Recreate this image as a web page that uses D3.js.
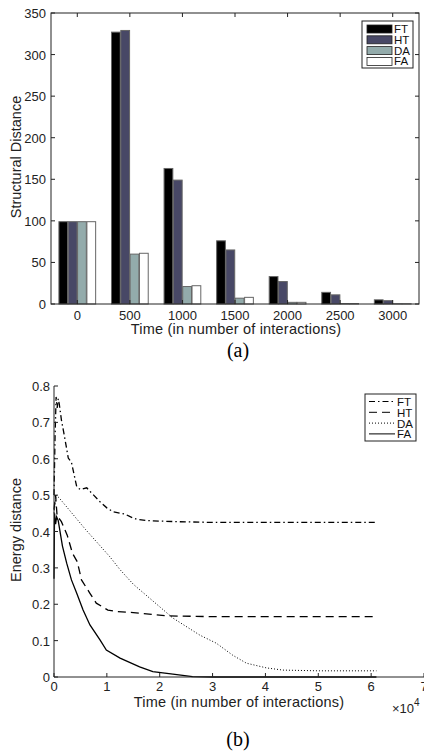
<!DOCTYPE html>
<html>
<head>
<meta charset="utf-8">
<script src="https://cdn.jsdelivr.net/npm/d3@7.9.0/dist/d3.min.js"></script>
<style>
  body { margin: 0; background: #fff; }
  svg { display: block; font-family: "Liberation Sans", Arial, sans-serif; }
</style>
</head>
<body>
<svg id="chart" width="424" height="754"></svg>
<script>
// ---- data: (a) structural distance bars ----
const times = ['0', '500', '1000', '1500', '2000', '2500', '3000'];
const methods = ['FT', 'HT', 'DA', 'FA'];
const ftBars = [99, 327, 163, 76, 33, 14, 5];
const htBars = [99, 329, 149, 65, 27, 11, 4];
const daBars = [99, 60, 21, 7, 2, 0.5, 0.3];
const faBars = [99, 61, 22, 8, 2, 0.5, 0.3];
const barTicks = [0, 50, 100, 150, 200, 250, 300, 350];

// ---- data: (b) energy distance curves (x in 10^4 interactions) ----
const ftLine = [[0, 0.5], [0.02, 0.66], [0.04, 0.77], [0.06, 0.74], [0.08, 0.765], [0.1, 0.75], [0.14, 0.707], [0.2, 0.66],
  [0.27, 0.602], [0.33, 0.59], [0.43, 0.523], [0.5, 0.515], [0.62, 0.52], [0.71, 0.506], [0.87, 0.482],
  [1.0, 0.465], [1.12, 0.454], [1.34, 0.448], [1.45, 0.44], [1.56, 0.434], [1.75, 0.43], [2.32, 0.427], [3.0, 0.425], [6.1, 0.425]];
const htLine = [[0, 0.46], [0.03, 0.5], [0.06, 0.44], [0.1, 0.435], [0.14, 0.427], [0.25, 0.39], [0.35, 0.34], [0.44, 0.317],
  [0.52, 0.267], [0.68, 0.23], [0.8, 0.203], [1.02, 0.184], [1.18, 0.18], [1.5, 0.177], [2.13, 0.168], [3.0, 0.166], [6.1, 0.166]];
const daLine = [[0, 0.45], [0.04, 0.5], [0.1, 0.492], [0.6, 0.405], [1.06, 0.33], [1.25, 0.295], [1.5, 0.255], [2.0, 0.193],
  [2.25, 0.162], [2.76, 0.115], [3.07, 0.093], [3.38, 0.06], [3.64, 0.038], [4.02, 0.025], [4.33, 0.019], [5.0, 0.017], [6.1, 0.017]];
const faLine = [[0, 0.27], [0.01, 0.45], [0.03, 0.42], [0.05, 0.44], [0.08, 0.43], [0.16, 0.36], [0.24, 0.313], [0.33, 0.267],
  [0.43, 0.23], [0.55, 0.184], [0.68, 0.143], [0.87, 0.102], [0.99, 0.074], [1.25, 0.052], [1.62, 0.028], [1.87, 0.015],
  [2.25, 0.008], [2.62, 0.001], [3.0, 0], [6.1, 0]];
const lineYTicks = [0, 0.1, 0.2, 0.3, 0.4, 0.5, 0.6, 0.7, 0.8];
const lineXTicks = [0, 1, 2, 3, 4, 5, 6, 7];

const svg = d3.select('#chart');
const fillColors = ['#000000', '#484866', '#93abab', '#ffffff'];
const tickSize = 4;
const tickFont = 13;
const labelFont = 14.5;

// ================= (a) =================
const a = { left: 51, right: 419, top: 13, bottom: 304 };
const xBand = d3.scaleBand().domain(times).range([a.left, a.right]).paddingInner(0.28).paddingOuter(0.14);
const xInner = d3.scaleBand().domain(methods).range([0, xBand.bandwidth()]).padding(0.06);
const yBar = d3.scaleLinear().domain([0, 350]).range([a.bottom, a.top]);
const barSeries = [ftBars, htBars, daBars, faBars];

const gA = svg.append('g');
barSeries.forEach((vals, s) => {
  gA.selectAll(null)
    .data(vals)
    .join('rect')
    .attr('x', (d, i) => xBand(times[i]) + xInner(methods[s]))
    .attr('y', (d) => yBar(d))
    .attr('width', xInner.bandwidth())
    .attr('height', (d) => a.bottom - yBar(d))
    .attr('fill', fillColors[s])
    .attr('stroke', '#666')
    .attr('stroke-width', 1);
});

const xCenter = (t) => xBand(t) + xBand.bandwidth() / 2;
const axA = gA.append('g').attr('fill', 'none').attr('stroke', '#222').attr('stroke-width', 1);
axA.append('rect').attr('x', a.left).attr('y', a.top).attr('width', a.right - a.left).attr('height', a.bottom - a.top);
barTicks.forEach((t) => {
  axA.append('line').attr('x1', a.left).attr('x2', a.left + tickSize).attr('y1', yBar(t)).attr('y2', yBar(t));
  axA.append('line').attr('x1', a.right).attr('x2', a.right - tickSize).attr('y1', yBar(t)).attr('y2', yBar(t));
});
times.forEach((t) => {
  axA.append('line').attr('x1', xCenter(t)).attr('x2', xCenter(t)).attr('y1', a.bottom).attr('y2', a.bottom - tickSize);
  axA.append('line').attr('x1', xCenter(t)).attr('x2', xCenter(t)).attr('y1', a.top).attr('y2', a.top + tickSize);
});

gA.selectAll('.ytl').data(barTicks).join('text')
  .attr('x', a.left - 5).attr('y', (d) => yBar(d) + 5)
  .attr('text-anchor', 'end').attr('font-size', tickFont).attr('fill', '#222')
  .text((d) => d);
gA.selectAll('.xtl').data(times).join('text')
  .attr('x', (d) => xCenter(d)).attr('y', 319.5)
  .attr('text-anchor', 'middle').attr('font-size', tickFont).attr('fill', '#222')
  .text((d) => d);
gA.append('text').attr('x', 236).attr('y', 334).attr('text-anchor', 'middle')
  .attr('font-size', labelFont).attr('letter-spacing', 0.2).attr('fill', '#222').text('Time (in number of interactions)');
gA.append('text').attr('transform', 'translate(21,157) rotate(-90)').attr('text-anchor', 'middle')
  .attr('font-size', labelFont).attr('fill', '#222').text('Structural Distance');
svg.append('text').attr('x', 238).attr('y', 357).attr('text-anchor', 'middle')
  .attr('font-family', '"Liberation Serif", serif').attr('font-size', 20).text('(a)');

// legend (a)
const legA = gA.append('g').attr('transform', 'translate(362,21)');
legA.append('rect').attr('width', 51).attr('height', 47).attr('fill', '#fff').attr('stroke', '#222');
methods.forEach((m, i) => {
  legA.append('rect').attr('x', 5).attr('y', 4 + i * 10.8).attr('width', 25).attr('height', 8)
    .attr('fill', fillColors[i]).attr('stroke', '#222').attr('stroke-width', 0.8);
  legA.append('text').attr('x', 32).attr('y', 12 + i * 10.8).attr('font-size', 11.5).attr('fill', '#111').text(m);
});

// ================= (b) =================
const b = { left: 54, right: 424, top: 386, bottom: 677 };
const xLine = d3.scaleLinear().domain([0, 7]).range([b.left, b.right]);
const yLine = d3.scaleLinear().domain([0, 0.8]).range([b.bottom, b.top]);
const gB = svg.append('g');

const lineStyles = [
  { data: ftLine, dash: '6,3,1.5,3' },
  { data: htLine, dash: '8,5' },
  { data: daLine, dash: '1,2' },
  { data: faLine, dash: null }
];
const lineGen = d3.line().x((d) => xLine(d[0])).y((d) => yLine(d[1]));
lineStyles.forEach((s) => {
  gB.append('path').attr('d', lineGen(s.data)).attr('fill', 'none')
    .attr('stroke', '#000').attr('stroke-width', s.dash === '1,2' ? 1 : 1.3)
    .attr('stroke-dasharray', s.dash);
});

const axB = gB.append('g').attr('fill', 'none').attr('stroke', '#222').attr('stroke-width', 1);
axB.append('line').attr('x1', b.left).attr('x2', b.left).attr('y1', b.top).attr('y2', b.bottom);
axB.append('line').attr('x1', b.left).attr('x2', b.right).attr('y1', b.bottom).attr('y2', b.bottom);
lineYTicks.forEach((t) => {
  axB.append('line').attr('x1', b.left).attr('x2', b.left + tickSize).attr('y1', yLine(t)).attr('y2', yLine(t));
});
lineXTicks.forEach((t) => {
  axB.append('line').attr('x1', xLine(t)).attr('x2', xLine(t)).attr('y1', b.bottom).attr('y2', b.bottom - tickSize);
});
gB.selectAll('.ytl').data(lineYTicks).join('text')
  .attr('x', b.left - 4).attr('y', (d) => yLine(d) + 5)
  .attr('text-anchor', 'end').attr('font-size', tickFont).attr('fill', '#222')
  .text((d) => d === 0 ? '0' : d3.format('.1f')(d));
gB.selectAll('.xtl').data(lineXTicks).join('text')
  .attr('x', (d) => xLine(d)).attr('y', 691)
  .attr('text-anchor', 'middle').attr('font-size', tickFont).attr('fill', '#222')
  .text((d) => d);
gB.append('text').attr('x', 239).attr('y', 706.5).attr('text-anchor', 'middle')
  .attr('font-size', labelFont).attr('letter-spacing', 0.2).attr('fill', '#222').text('Time (in number of interactions)');
const pow = gB.append('text').attr('x', 392).attr('y', 713).attr('font-size', 13).attr('fill', '#222');
pow.append('tspan').text('×10');
pow.append('tspan').attr('dy', -7).attr('font-size', 10).text('4');
gB.append('text').attr('transform', 'translate(21,530) rotate(-90)').attr('text-anchor', 'middle')
  .attr('font-size', labelFont).attr('fill', '#222').text('Energy distance');
svg.append('text').attr('x', 238).attr('y', 746).attr('text-anchor', 'middle')
  .attr('font-family', '"Liberation Serif", serif').attr('font-size', 20).text('(b)');

// legend (b)
const legB = gB.append('g').attr('transform', 'translate(365,394)');
legB.append('rect').attr('width', 51).attr('height', 47).attr('fill', '#fff').attr('stroke', '#222');
methods.forEach((m, i) => {
  const y = 7.5 + i * 10.8;
  legB.append('line').attr('x1', 4).attr('x2', 30).attr('y1', y).attr('y2', y)
    .attr('stroke', '#000').attr('stroke-width', 1)
    .attr('stroke-dasharray', lineStyles[i].dash);
  legB.append('text').attr('x', 32).attr('y', y + 4.5).attr('font-size', 11.5).attr('fill', '#111').text(m);
});
</script>
</body>
</html>
